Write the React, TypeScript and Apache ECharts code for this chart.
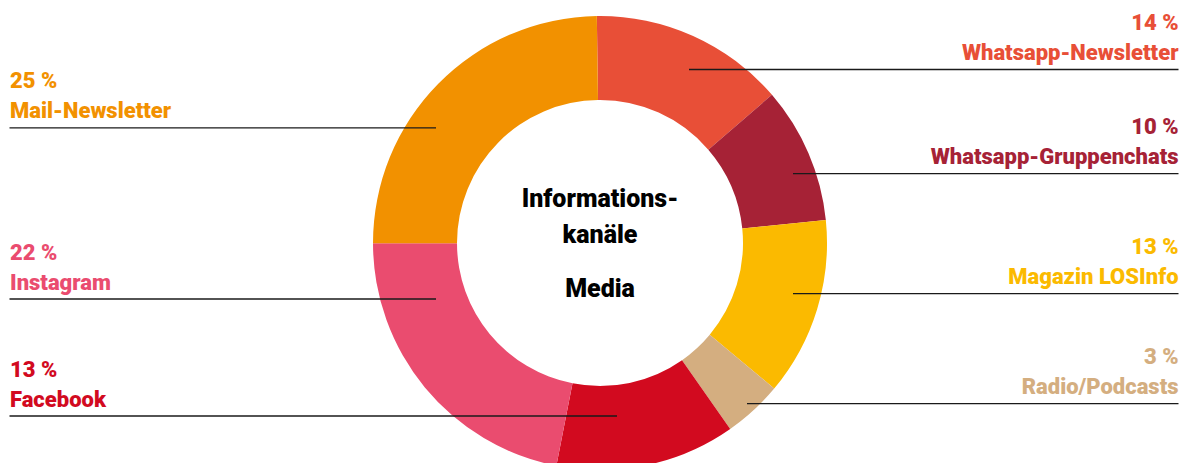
import React, { useEffect, useRef } from "react";
import * as echarts from "echarts";

// Data (clockwise from 12 o'clock)
const categories = [
  "Whatsapp-Newsletter",
  "Whatsapp-Gruppenchats",
  "Magazin LOSInfo",
  "Radio/Podcasts",
  "Facebook",
  "Instagram",
  "Mail-Newsletter",
];
// printed percentages
const percentLabels = [14, 10, 13, 3, 13, 22, 25];
// slice sizes as drawn (share of the ring, %)
const sliceShares = [13.9, 9.7, 12.7, 4.2, 12.8, 21.9, 24.8];
const colors = ["#E84F37", "#A62236", "#FBBA00", "#D4AE80", "#D20A1F", "#EA4C6F", "#F29100"];
const centerTitle = ["Informations-", "kanäle"];
const centerSub = "Media";

// Label layout (leader line height and inner end, per slice)
const leaderLayout = [
  { side: "right", lineY: 69.5, innerX: 689 },
  { side: "right", lineY: 173.7, innerX: 793 },
  { side: "right", lineY: 293.7, innerX: 793 },
  { side: "right", lineY: 403.7, innerX: 747 },
  { side: "left", lineY: 416, innerX: 617 },
  { side: "left", lineY: 299, innerX: 436 },
  { side: "left", lineY: 127.8, innerX: 436 },
];
const LEFT_EDGE = 9.5;
const RIGHT_EDGE = 1178.5;
const FONT = "Roboto, 'Noto Sans', sans-serif";
const WEIGHT = 900;

export default function App() {
  const ref = useRef<HTMLDivElement>(null);
  useEffect(() => {
    document.body.style.margin = "0";
    if (!ref.current) return;
    const chart = echarts.init(ref.current, undefined, { renderer: "svg" });
    const ringData = categories.map((name, i) => ({
      name,
      value: sliceShares[i],
      itemStyle: { color: colors[i] },
    }));
    const labelData = categories.map((name, i) => ({
      name,
      value: sliceShares[i],
      itemStyle: { color: "rgba(0,0,0,0)" },
      label: {
        rich: {
          p: { fontSize: 22, fontWeight: WEIGHT, color: colors[i], lineHeight: 30, fontFamily: FONT },
          n: { fontSize: 22, fontWeight: WEIGHT, color: colors[i], lineHeight: 30, fontFamily: FONT },
        },
      },
    }));
    const geometry = {
      type: "pie",
      center: [600, 243],
      radius: [143, 227],
      startAngle: 90.8,
      clockwise: true,
      avoidLabelOverlap: false,
      emphasis: { disabled: true },
    };
    chart.setOption({
      animation: false,
      backgroundColor: "#ffffff",
      graphic: [
        {
          type: "text",
          x: 600,
          y: 180,
          z: 10,
          style: {
            text: centerTitle.join("\n"),
            font: `${WEIGHT} 25px ${FONT}`,
            fill: "#000000",
            textAlign: "center",
            textVerticalAlign: "top",
            lineHeight: 36,
          },
        },
        {
          type: "text",
          x: 600,
          y: 270,
          z: 10,
          style: {
            text: centerSub,
            font: `${WEIGHT} 25px ${FONT}`,
            fill: "#000000",
            textAlign: "center",
            textVerticalAlign: "top",
            lineHeight: 36,
          },
        },
      ],
      series: [
        {
          ...geometry,
          z: 2,
          data: ringData,
          label: { show: false },
          labelLine: { show: false },
        },
        {
          ...geometry,
          z: 3,
          silent: true,
          data: labelData,
          label: {
            show: true,
            position: "outside",
            formatter: (p: any) => `{p|${percentLabels[p.dataIndex]} %}\n{n|${p.name}}`,
          },
          labelLine: {
            show: true,
            smooth: false,
            lineStyle: { color: "#1a1a1a", width: 1.3 },
          },
          labelLayout: (params: any) => {
            const l = leaderLayout[params.dataIndex];
            const right = l.side === "right";
            const edge = right ? RIGHT_EDGE : LEFT_EDGE;
            const mid = (edge + l.innerX) / 2;
            return {
              x: right ? RIGHT_EDGE : LEFT_EDGE + 0.5,
              y: l.lineY - 2,
              align: right ? "right" : "left",
              verticalAlign: "bottom",
              labelLinePoints: [
                [l.innerX, l.lineY],
                [mid, l.lineY],
                [edge, l.lineY],
              ],
            };
          },
        },
      ],
    });
    return () => chart.dispose();
  }, []);
  return (
    <div
      ref={ref}
      style={{ position: "fixed", left: 0, top: 0, width: 1184, height: 463 }}
    />
  );
}
